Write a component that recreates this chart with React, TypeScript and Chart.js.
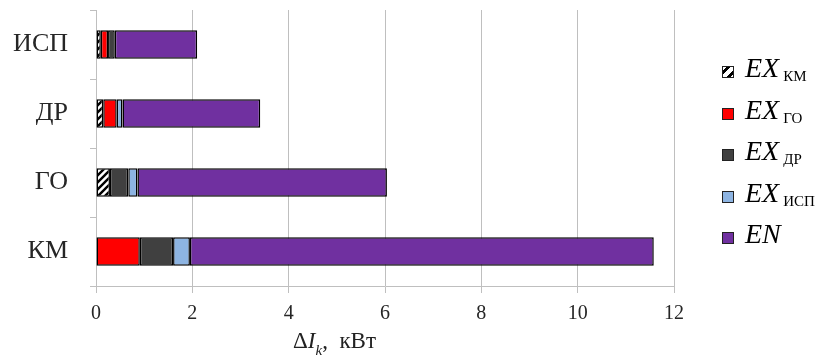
import React, { useEffect, useRef } from "react";
import { Chart, registerables } from "chart.js";

Chart.register(...registerables);

const categories = ["ИСП", "ДР", "ГО", "КМ"];
const exKM = [0.1, 0.15, 0.29, null];
const exGO = [0.15, 0.28, null, 0.91];
const exDR = [0.14, null, 0.38, 0.69];
const exISP = [null, 0.12, 0.19, 0.35];
const en = [1.71, 2.86, 5.18, 9.63];
const xTicks = [0, 2, 4, 6, 8, 10, 12];

const seriesMain = ["EX", "EX", "EX", "EX", "EN"];
const seriesSub = ["КМ", "ГО", "ДР", "ИСП", ""];
const seriesColors = ["hatch", "#ff0000", "#404040", "#8db4e2", "#7030a0"];

const FONT = '"Liberation Serif", "Times New Roman", serif';

function makeHatch(): CanvasPattern | string {
  const c = document.createElement("canvas");
  c.width = 7;
  c.height = 7;
  const ctx = c.getContext("2d");
  if (!ctx) return "#ffffff";
  ctx.fillStyle = "#ffffff";
  ctx.fillRect(0, 0, 7, 7);
  ctx.strokeStyle = "#000000";
  ctx.lineWidth = 2.4;
  ctx.beginPath();
  ctx.moveTo(-1, 1);
  ctx.lineTo(1, -1);
  ctx.moveTo(-1, 8);
  ctx.lineTo(8, -1);
  ctx.moveTo(6, 8);
  ctx.lineTo(8, 6);
  ctx.stroke();
  return ctx.createPattern(c, "repeat") as CanvasPattern;
}

export default function App() {
  const ref = useRef<HTMLCanvasElement | null>(null);

  useEffect(() => {
    if (!ref.current) return;
    const hatch = makeHatch();
    const data = [exKM, exGO, exDR, exISP, en];
    const chart = new Chart(ref.current, {
      type: "bar",
      data: {
        labels: categories,
        datasets: data.map((d, i) => ({
          label: seriesMain[i] + seriesSub[i],
          data: d as any,
          backgroundColor: seriesColors[i] === "hatch" ? (hatch as any) : seriesColors[i],
          borderColor: "#000000",
          borderWidth: 1.5,
          borderSkipped: false,
          barPercentage: 0.41,
          categoryPercentage: 1,
        })),
      },
      options: {
        indexAxis: "y",
        animation: false,
        responsive: true,
        maintainAspectRatio: false,
        layout: { padding: { top: 10, right: 145, left: 0, bottom: 0 } },
        plugins: {
          legend: { display: false },
          tooltip: { enabled: false },
        },
        scales: {
          x: {
            stacked: true,
            min: 0,
            max: 12,
            afterBuildTicks: (scale: any) => {
              scale.ticks = xTicks.map((v) => ({ value: v }));
            },
            afterFit: (scale: any) => {
              scale.height = 72;
              scale.paddingLeft = 0;
            },
            grid: {
              color: "#bfbfbf",
              lineWidth: 1,
              tickLength: 7,
            },
            border: { color: "#bfbfbf", width: 1 },
            ticks: {
              font: { family: FONT, size: 20 },
              color: "#262626",
              padding: 9,
              maxRotation: 0,
            },
          },
          y: {
            stacked: true,
            afterFit: (scale: any) => {
              scale.width = 96;
              scale.paddingTop = 0;
              scale.paddingBottom = 0;
            },
            grid: {
              drawOnChartArea: false,
              color: "#bfbfbf",
              tickLength: 6,
            },
            border: { color: "#bfbfbf", width: 1 },
            ticks: {
              font: { family: FONT, size: 26 },
              color: "#262626",
              padding: 22,
            },
          },
        },
      },
    });
    return () => chart.destroy();
  }, []);

  const legendTop = 72;
  const legendStep = 41.5;

  return (
    <div
      style={{
        position: "fixed",
        left: 0,
        top: 0,
        width: 819,
        height: 358,
        background: "#ffffff",
        fontFamily: FONT,
      }}
    >
      <canvas ref={ref} style={{ position: "absolute", left: 0, top: 0 }} />
      {seriesMain.map((m, i) => {
        const cy = legendTop + i * legendStep;
        const isHatch = seriesColors[i] === "hatch";
        return (
          <div key={i}>
            <div
              style={{
                position: "absolute",
                left: 722,
                top: cy - 6,
                width: 10,
                height: 10,
                border: "1px solid #222",
                background: isHatch
                  ? "repeating-linear-gradient(-45deg, #fff 0px, #fff 2px, #000 2px, #000 4.5px, #fff 4.5px, #fff 7px)"
                  : seriesColors[i],
              }}
            />
            <div
              style={{
                position: "absolute",
                left: 745,
                top: cy - 21,
                whiteSpace: "nowrap",
                color: "#000",
                lineHeight: "34px",
              }}
            >
              <span style={{ fontStyle: "italic", fontSize: 28 }}>{m}</span>
              {seriesSub[i] ? (
                <span
                  style={{
                    fontSize: 15,
                    position: "relative",
                    top: 4,
                    marginLeft: 4,
                  }}
                >
                  {seriesSub[i]}
                </span>
              ) : null}
            </div>
          </div>
        );
      })}
      <div
        style={{
          position: "absolute",
          left: 293,
          top: 327,
          whiteSpace: "nowrap",
          fontSize: 23,
          lineHeight: "28px",
          color: "#222",
        }}
      >
        <span>Δ</span>
        <span style={{ fontStyle: "italic" }}>I</span>
        <span style={{ fontStyle: "italic", fontSize: 15, position: "relative", top: 7 }}>k</span>
        <span>,&nbsp; кВт</span>
      </div>
    </div>
  );
}
